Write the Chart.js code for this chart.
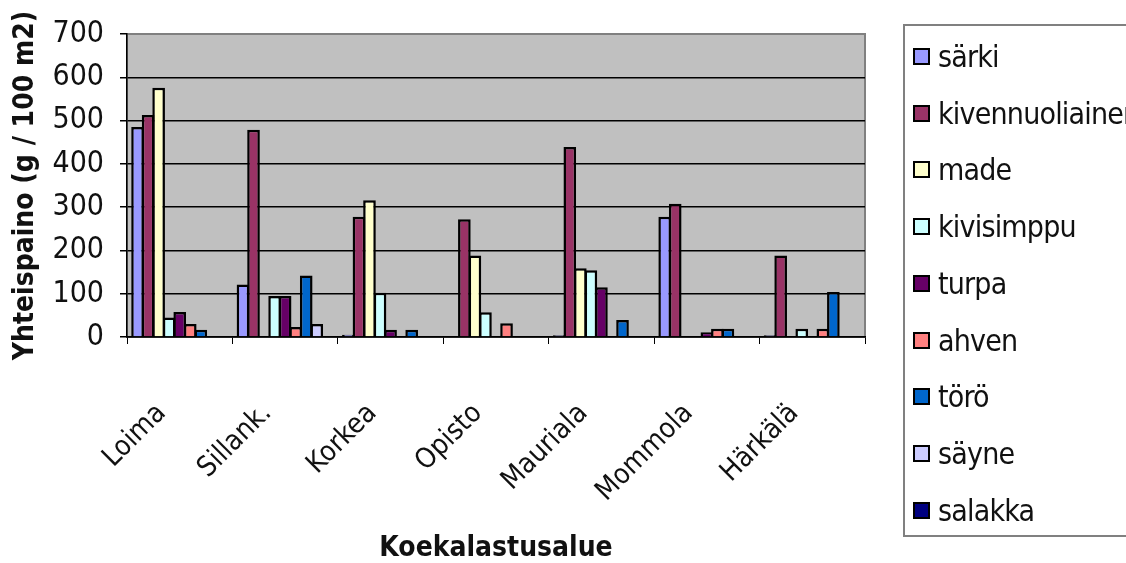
<!DOCTYPE html>
<html>
<head>
<meta charset="utf-8">
<script src="https://cdn.jsdelivr.net/npm/chart.js@4"></script>
<style>
	body { margin: 0; background: #fff; overflow: hidden; }
	#wrap { position: relative; width: 1126px; height: 563px; }
	#legend {
		position: absolute; left: 903px; top: 24px; width: 240px; height: 513px;
		border: 2px solid #808080; box-sizing: border-box;
		font-family: 'Liberation Sans Narrow', 'DejaVu Sans Condensed', 'Arial Narrow', sans-serif;
		font-size: 30px; color: #111; letter-spacing: -0.8px;
	}
	#legend div { position: absolute; left: 8px; height: 34px; line-height: 34px; white-space: nowrap; }
	#legend span {
		display: inline-block; width: 13px; height: 13px; border: 2.5px solid #000;
		vertical-align: middle; margin-right: 8px; position: relative; top: -2px;
	}
</style>
</head>
<body>
<div id="wrap">
	<canvas id="chart" width="1126" height="563"></canvas>
	<div id="legend"></div>
</div>
<script>
const FONT = "'Liberation Sans Narrow', 'DejaVu Sans Condensed', 'Arial Narrow', sans-serif";

const areas = ['Loima', 'Sillank.', 'Korkea', 'Opisto', 'Mauriala', 'Mommola', 'Härkälä'];
const yTicks = [0, 100, 200, 300, 400, 500, 600, 700];

const sarki = [485, 121, 5, 0, 4, 278, 4];
const kivennuoliainen = [513, 479, 278, 272, 439, 308, 188];
const made = [576, 0, 316, 188, 159, 0, 0];
const kivisimppu = [45, 95, 102, 57, 154, 0, 19];
const turpa = [58, 95, 17, 0, 115, 11, 0];
const ahven = [30, 23, 0, 32, 0, 19, 19];
const toro = [17, 142, 17, 0, 39, 19, 104];
const sayne = [0, 30, 0, 0, 0, 0, 0];
const salakka = [0, 0, 0, 0, 0, 0, 0];

const series = [
	['särki', sarki, '#9999ff'],
	['kivennuoliainen', kivennuoliainen, '#993366'],
	['made', made, '#ffffcc'],
	['kivisimppu', kivisimppu, '#ccffff'],
	['turpa', turpa, '#660066'],
	['ahven', ahven, '#ff8080'],
	['törö', toro, '#0066cc'],
	['säyne', sayne, '#ccccff'],
	['salakka', salakka, '#000080']
];

// grey plot background with a light frame, like the old Excel charts
const plotBackground = {
	id: 'plotBackground',
	beforeDraw(chart) {
		const { ctx, chartArea: a } = chart;
		ctx.save();
		ctx.fillStyle = '#c0c0c0';
		ctx.fillRect(a.left, a.top, a.right - a.left, a.bottom - a.top);
		ctx.strokeStyle = '#808080';
		ctx.lineWidth = 2;
		ctx.strokeRect(a.left, a.top, a.right - a.left, a.bottom - a.top);
		ctx.restore();
	}
};

const chart = new Chart(document.getElementById('chart'), {
	type: 'bar',
	data: {
		labels: areas,
		datasets: series.map(([label, data, color]) => ({
			label,
			data,
			backgroundColor: color,
			borderColor: '#000',
			borderWidth: 2.5,
			categoryPercentage: 0.9,
			barPercentage: 1.2     // slight overlap so neighbours share one outline
		}))
	},
	options: {
		responsive: false,
		animation: false,
		layout: { padding: { top: 27, right: 261, left: 0, bottom: 0 } },
		scales: {
			x: {
				afterFit: (scale) => { scale.height = 226; },
				grid: { drawOnChartArea: false, color: '#000', tickLength: 7 },
				border: { color: '#000', width: 1.5 },
				ticks: {
					color: '#111', minRotation: 45, maxRotation: 45,
					padding: 53, labelOffset: -18,
					font: { family: FONT, size: 28 }
				},
				title: {
					display: true, text: 'Koekalastusalue', color: '#111',
					padding: { top: 0, bottom: 0 },
					font: { family: FONT, size: 28, weight: 'bold', lineHeight: 1 }
				}
			},
			y: {
				min: 0,
				max: 700,
				afterFit: (scale) => { scale.width = 127; },
				afterBuildTicks: (scale) => { scale.ticks = yTicks.map((v) => ({ value: v })); },
				grid: {
					color: (c) => (c.tick && c.tick.value === 700 ? '#808080' : '#000'),
					tickColor: '#000',
					lineWidth: 1.5,
					tickLength: 7
				},
				border: { color: '#000', width: 1.5 },
				ticks: { color: '#111', padding: 16, font: { family: FONT, size: 30 } },
				title: {
					display: true, text: 'Yhteispaino (g / 100 m2)', color: '#111',
					padding: { top: 9, bottom: 0 },
					font: { family: FONT, size: 28, weight: 'bold' }
				}
			}
		},
		plugins: {
			legend: { display: false },
			tooltip: { enabled: false }
		}
	},
	plugins: [plotBackground]
});

// html legend built from the chart's datasets
const legendBox = document.getElementById('legend');
chart.data.datasets.forEach((ds, i) => {
	const row = document.createElement('div');
	row.style.top = (57 + 56.7 * i - 24 - 17 - 2) + 'px';
	row.innerHTML = '<span style="background:' + ds.backgroundColor + '"></span>' + ds.label;
	legendBox.appendChild(row);
});
</script>
</body>
</html>
